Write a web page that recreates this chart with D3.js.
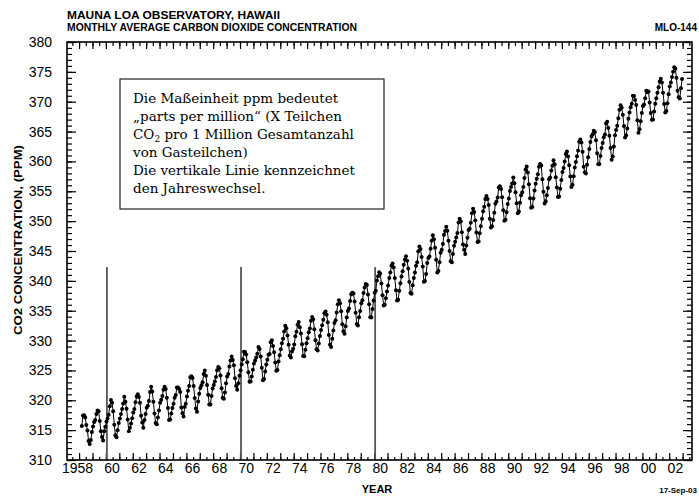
<!DOCTYPE html>
<meta charset="utf-8">
<script src="https://d3js.org/d3.v7.min.js"></script>
<style>
    body { margin: 0; background: #fff; }
    svg text { fill: #000; }
</style>
<div id="chart"></div>
<script>
    var width = 699
    var height = 497

    // monthly means (ppm), Jan..Dec, one array per decade
    const co2_1950s = [
        null, null, 315.71, 317.45, 317.50, 317.10, 315.86, 314.93, 313.20, 312.66, 313.33, 314.67,
        315.62, 316.38, 316.71, 317.72, 318.29, 318.15, 316.54, 314.80, 313.84, 313.26, 314.80, 315.58
    ]
    const co2_1960s = [
        316.43, 316.97, 317.58, 319.02, 320.03, 319.59, 318.18, 315.91, 314.16, 313.83, 315.00, 316.19,
        316.93, 317.70, 318.54, 319.48, 320.58, 319.77, 318.57, 316.79, 314.80, 315.38, 316.10, 317.01,
        317.94, 318.56, 319.68, 320.63, 321.01, 320.55, 319.58, 317.40, 316.26, 315.42, 316.69, 317.69,
        318.74, 319.08, 319.86, 321.39, 322.25, 321.47, 319.74, 317.77, 316.21, 315.99, 317.12, 318.31,
        319.57, 320.07, 320.73, 321.77, 322.25, 321.89, 320.44, 318.70, 316.70, 316.79, 317.79, 318.71,
        319.44, 320.44, 320.89, 322.13, 322.16, 321.87, 321.39, 318.80, 317.81, 317.30, 318.87, 319.42,
        320.62, 321.59, 322.39, 323.87, 324.01, 323.75, 322.39, 320.37, 318.64, 318.10, 319.79, 321.08,
        322.07, 322.50, 323.04, 324.42, 325.00, 324.09, 322.55, 320.92, 319.31, 319.31, 320.72, 321.96,
        322.57, 323.15, 323.89, 325.02, 325.57, 325.36, 324.14, 322.03, 320.41, 320.25, 321.31, 322.84,
        324.00, 324.42, 325.64, 326.66, 327.34, 326.76, 325.88, 323.67, 322.38, 321.78, 322.85, 324.11
    ]
    const co2_1970s = [
        325.03, 325.99, 326.87, 328.13, 328.07, 327.66, 326.35, 324.69, 323.10, 323.16, 323.98, 325.13,
        326.17, 326.68, 327.18, 327.78, 328.92, 328.57, 327.34, 325.46, 323.36, 323.57, 324.80, 326.01,
        326.77, 327.63, 327.75, 329.72, 330.07, 329.09, 328.05, 326.32, 324.93, 325.06, 326.50, 327.55,
        328.54, 329.56, 330.30, 331.50, 332.48, 332.07, 330.87, 329.31, 327.51, 327.18, 328.16, 328.64,
        329.35, 330.71, 331.48, 332.65, 333.09, 332.25, 331.18, 329.40, 327.43, 327.37, 328.46, 329.57,
        330.40, 331.40, 332.04, 333.31, 333.96, 333.59, 331.91, 330.06, 328.56, 328.34, 329.49, 330.76,
        331.75, 332.56, 333.50, 334.58, 334.87, 334.34, 333.05, 330.94, 329.30, 328.94, 330.31, 331.68,
        332.93, 333.42, 334.70, 336.07, 336.74, 336.27, 334.93, 332.75, 331.58, 331.16, 332.40, 333.85,
        334.97, 335.39, 336.64, 337.76, 338.01, 337.89, 336.54, 334.68, 332.76, 332.54, 333.92, 334.95,
        336.23, 336.76, 337.96, 338.89, 339.47, 339.29, 337.73, 336.09, 333.91, 333.86, 335.29, 336.73
    ]
    const co2_1980s = [
        338.01, 338.36, 340.08, 340.77, 341.46, 341.17, 339.56, 337.60, 335.88, 336.01, 337.10, 338.21,
        339.23, 340.47, 341.38, 342.51, 342.91, 342.25, 340.49, 338.43, 336.69, 336.85, 338.36, 339.61,
        340.75, 341.61, 342.70, 343.56, 344.13, 343.35, 342.06, 339.82, 337.97, 337.86, 339.26, 340.49,
        341.38, 342.52, 343.10, 344.94, 345.75, 345.32, 343.99, 342.39, 339.86, 339.99, 341.16, 342.99,
        343.81, 344.06, 345.38, 346.72, 347.63, 346.97, 345.53, 343.55, 341.40, 341.67, 343.10, 344.70,
        345.21, 346.16, 347.74, 348.33, 349.06, 348.38, 346.72, 345.02, 343.27, 343.13, 344.49, 345.88,
        346.56, 347.28, 348.01, 349.77, 350.38, 349.93, 348.16, 346.08, 345.22, 344.51, 345.93, 347.22,
        348.52, 348.73, 349.73, 351.31, 352.09, 351.53, 350.11, 348.08, 346.52, 346.59, 347.96, 349.16,
        350.39, 351.64, 352.41, 353.69, 354.21, 353.72, 352.69, 350.40, 348.92, 349.13, 350.20, 351.41,
        352.91, 353.27, 353.96, 355.64, 355.86, 355.37, 353.99, 351.81, 350.05, 350.25, 351.49, 352.85
    ]
    const co2_1990s = [
        353.80, 355.04, 355.73, 356.32, 357.32, 356.34, 354.84, 353.01, 351.31, 351.62, 353.07, 354.33,
        354.84, 355.73, 357.23, 358.66, 359.13, 358.13, 356.19, 353.85, 352.25, 352.35, 353.81, 355.12,
        356.25, 357.11, 357.86, 359.09, 359.59, 359.33, 357.01, 354.94, 352.96, 353.32, 354.32, 355.57,
        357.00, 357.31, 358.47, 359.27, 360.19, 359.52, 357.33, 355.64, 354.03, 354.12, 355.41, 356.91,
        358.24, 358.92, 359.99, 361.23, 361.65, 360.81, 359.38, 357.46, 355.73, 356.08, 357.53, 358.98,
        359.92, 360.86, 361.83, 363.30, 363.69, 363.19, 361.64, 359.12, 358.17, 357.99, 359.45, 360.68,
        362.07, 363.24, 364.17, 364.57, 365.13, 364.92, 363.55, 361.38, 359.54, 359.58, 360.89, 362.24,
        363.09, 364.03, 364.51, 366.35, 366.64, 365.59, 364.31, 362.25, 360.29, 360.82, 362.49, 364.38,
        365.27, 365.98, 367.24, 368.66, 369.42, 368.99, 367.82, 365.95, 364.02, 364.40, 365.52, 367.13,
        368.18, 369.07, 369.68, 370.99, 370.96, 370.30, 369.45, 366.90, 364.81, 365.37, 366.72, 368.10
    ]
    const co2_2000s = [
        369.29, 369.54, 370.60, 371.82, 371.58, 371.70, 369.86, 368.13, 367.00, 367.03, 368.37, 369.67,
        370.59, 371.51, 372.43, 373.37, 373.85, 373.22, 371.50, 369.61, 368.18, 368.45, 369.76, 371.24,
        372.53, 373.20, 374.12, 375.02, 375.76, 375.52, 374.01, 371.85, 370.75, 370.55, 372.25, 373.79
    ]
    const firstYear = 1958
    const decadeLines = [1960, 1970, 1980]
    const xLabelYears = d3.range(1958, 2003, 2)
    const yLabels = [310, 315, 320, 325, 330, 335, 340, 345, 350, 355, 360, 365, 370, 375, 380]

    var values = [].concat(co2_1950s, co2_1960s, co2_1970s, co2_1980s, co2_1990s, co2_2000s)
    var data = []
    values.forEach(function (v, i) {
        if (v != null) data.push({ t: firstYear + Math.floor(i / 12) + ((i % 12) + 0.5) / 12, v: v })
    })

    var plotLeft = 67, plotRight = 692, plotTop = 42, plotBottom = 460

    var x = d3.scaleLinear().domain([1957.1, 2003.7]).range([plotLeft, plotRight])
    var y = d3.scaleLinear().domain([310, 380]).range([plotBottom, plotTop])

    var svg = d3.select("#chart")
        .append("svg")
        .attr("width", width)
        .attr("height", height)
        .style("font-family", "'Liberation Sans', Arial, sans-serif")

    svg.append("rect").attr("width", width).attr("height", height).attr("fill", "#fff")

    // titles
    svg.append("text").attr("x", plotLeft).attr("y", 19)
        .attr("font-size", 10).attr("font-weight", "bold")
        .attr("textLength", 213).attr("lengthAdjust", "spacingAndGlyphs")
        .text("MAUNA LOA OBSERVATORY, HAWAII")
    svg.append("text").attr("x", plotLeft).attr("y", 31)
        .attr("font-size", 10).attr("font-weight", "bold")
        .attr("textLength", 290).attr("lengthAdjust", "spacingAndGlyphs")
        .text("MONTHLY AVERAGE CARBON DIOXIDE CONCENTRATION")
    svg.append("text").attr("x", 697).attr("y", 31)
        .attr("font-size", 10).attr("font-weight", "bold").attr("text-anchor", "end")
        .text("MLO-144")

    // ticks
    var halfYears = d3.range(1957.5, 2003.7, 0.5)
    var wholeYears = d3.range(1958, 2004, 1)
    var ppmMinor = d3.range(310, 381, 1)

    function tickAxis(axis, g) {
        g.call(axis.tickFormat(""))
        g.select(".domain").remove()
        g.selectAll(".tick line").attr("stroke", "#000").attr("stroke-width", 1.2)
    }

    tickAxis(d3.axisBottom(x).tickValues(halfYears).tickSize(-3),
        svg.append("g").attr("transform", "translate(0," + plotBottom + ")"))
    tickAxis(d3.axisBottom(x).tickValues(wholeYears).tickSize(-7),
        svg.append("g").attr("transform", "translate(0," + plotBottom + ")"))
    tickAxis(d3.axisTop(x).tickValues(halfYears).tickSize(-4),
        svg.append("g").attr("transform", "translate(0," + plotTop + ")"))
    tickAxis(d3.axisTop(x).tickValues(wholeYears).tickSize(-7),
        svg.append("g").attr("transform", "translate(0," + plotTop + ")"))
    tickAxis(d3.axisLeft(y).tickValues(ppmMinor).tickSize(-5),
        svg.append("g").attr("transform", "translate(" + plotLeft + ",0)"))
    tickAxis(d3.axisLeft(y).tickValues(yLabels).tickSize(-9),
        svg.append("g").attr("transform", "translate(" + plotLeft + ",0)"))
    tickAxis(d3.axisRight(y).tickValues(ppmMinor).tickSize(-5),
        svg.append("g").attr("transform", "translate(" + plotRight + ",0)"))
    tickAxis(d3.axisRight(y).tickValues(yLabels).tickSize(-9),
        svg.append("g").attr("transform", "translate(" + plotRight + ",0)"))

    // labels
    var yAxis = svg.append("g").attr("transform", "translate(" + plotLeft + ",0)")
        .call(d3.axisLeft(y).tickValues(yLabels).tickSize(0).tickPadding(15))
    yAxis.select(".domain").remove()
    yAxis.selectAll("text").attr("font-size", 14).attr("font-family", "'Liberation Sans', Arial, sans-serif")

    var xAxis = svg.append("g").attr("transform", "translate(0," + plotBottom + ")")
        .call(d3.axisBottom(x).tickValues(xLabelYears).tickSize(0).tickPadding(3)
            .tickFormat(function (d) { return d == 1958 ? "1958" : String(d % 100).padStart(2, "0") }))
    xAxis.select(".domain").remove()
    xAxis.selectAll("text").attr("font-size", 14).attr("font-family", "'Liberation Sans', Arial, sans-serif")
        .attr("text-anchor", "end").attr("x", 13.5)

    svg.append("text").attr("x", 377).attr("y", 493).attr("text-anchor", "middle")
        .attr("font-size", 11).attr("font-weight", "bold").text("YEAR")
    svg.append("text").attr("x", 697).attr("y", 493).attr("text-anchor", "end")
        .attr("font-size", 8).attr("font-weight", "bold").text("17-Sep-03")
    svg.append("text").attr("transform", "translate(22,240) rotate(-90)").attr("text-anchor", "middle")
        .attr("font-size", 10).attr("font-weight", "bold")
        .attr("textLength", 190).attr("lengthAdjust", "spacingAndGlyphs")
        .text("CO2 CONCENTRATION, (PPM)")

    // decade markers
    svg.append("g").selectAll("line").data(decadeLines).enter().append("line")
        .attr("x1", function (d) { return x(d) + 1 }).attr("x2", function (d) { return x(d) + 1 })
        .attr("y1", y(310)).attr("y2", y(342.3))
        .attr("stroke", "#555").attr("stroke-width", 1.8)

    // series
    var line = d3.line().x(function (d) { return x(d.t) }).y(function (d) { return y(d.v) })
    svg.append("path").datum(data).attr("d", line)
        .attr("fill", "none").attr("stroke", "#000").attr("stroke-width", 1)
    svg.append("g").selectAll("circle").data(data).enter().append("circle")
        .attr("cx", function (d) { return x(d.t) }).attr("cy", function (d) { return y(d.v) })
        .attr("r", 2).attr("fill", "#000")

    // frame
    svg.append("rect").attr("x", plotLeft).attr("y", plotTop)
        .attr("width", plotRight - plotLeft).attr("height", plotBottom - plotTop)
        .attr("fill", "none").attr("stroke", "#000").attr("stroke-width", 1.6)

    // note box
    svg.append("rect").attr("x", 120).attr("y", 79).attr("width", 264).attr("height", 130)
        .attr("fill", "#fff").attr("stroke", "#222").attr("stroke-width", 1.2)
    var note = svg.append("text").attr("font-family", "'DejaVu Serif', serif").attr("font-size", 13.5)
    var noteLines = [
        "Die Maßeinheit ppm bedeutet",
        "„parts per million“ (X Teilchen",
        null,
        "von Gasteilchen)",
        "Die vertikale Linie kennzeichnet",
        "den Jahreswechsel."
    ]
    noteLines.forEach(function (s, i) {
        var t = note.append("tspan").attr("x", 133).attr("y", 103 + i * 18)
        if (s) t.text(s)
        else {
            t.text("CO")
            note.append("tspan").attr("font-size", 9).attr("dy", 3).text("2")
            note.append("tspan").attr("dy", -3).text(" pro 1 Million Gesamtanzahl")
        }
    })
</script>
